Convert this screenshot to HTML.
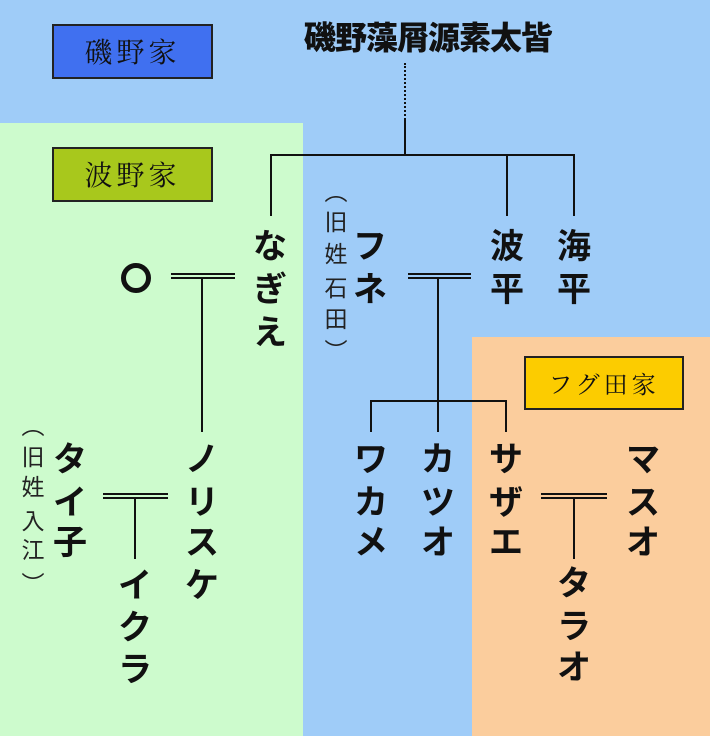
<!DOCTYPE html>
<html><head><meta charset="utf-8"><style>
body{margin:0;width:710px;height:736px;overflow:hidden;position:relative;background:#9fccf8;font-family:"Liberation Sans","Noto Sans CJK JP",sans-serif}
div{position:absolute}
.c{width:44px;text-align:center;font-size:34px;font-weight:bold;line-height:36px;color:#111}
.s{width:30px;text-align:center;font-size:23px;line-height:26px;color:#222}
.l{background:#111}
.box{border:2px solid #222;box-sizing:border-box;font-family:"Noto Serif CJK SC","Liberation Serif",serif;font-size:28px;text-align:center;color:#111;letter-spacing:4px}
</style></head><body>
<div style="left:0;top:123px;width:303px;height:613px;background:#cdfbcd"></div>
<div style="left:472px;top:337px;width:238px;height:399px;background:#fbcd9d"></div>

<div class="box" style="left:52px;top:24px;width:161px;height:55px;background:#4070f0;line-height:51px">磯野家</div>
<div class="box" style="left:52px;top:147px;width:161px;height:55px;background:#a8c81c;line-height:51px">波野家</div>
<div class="box" style="left:524px;top:356px;width:160px;height:54px;background:#fccc00;line-height:50px;font-size:24px">フグ田家</div>

<div style="left:281px;top:20px;width:294px;text-align:center;font-size:32px;font-weight:900;line-height:36px;color:#111;letter-spacing:-1px">磯野藻屑源素太皆</div>

<div style="left:404px;top:63px;width:0;height:57px;border-left:2px dotted #111"></div>
<div class="l" style="left:404px;top:120px;width:2px;height:36px"></div>
<div class="l" style="left:270px;top:154px;width:305px;height:2px"></div>
<div class="l" style="left:270px;top:154px;width:2px;height:62px"></div>
<div class="l" style="left:506px;top:154px;width:2px;height:62px"></div>
<div class="l" style="left:573px;top:154px;width:2px;height:62px"></div>

<div class="l" style="left:171px;top:273px;width:64px;height:2px"></div>
<div class="l" style="left:171px;top:277px;width:64px;height:2px"></div>
<div class="l" style="left:201px;top:277px;width:2px;height:155px"></div>

<div class="l" style="left:408px;top:273px;width:63px;height:2px"></div>
<div class="l" style="left:408px;top:277px;width:63px;height:2px"></div>
<div class="l" style="left:437px;top:277px;width:2px;height:155px"></div>
<div class="l" style="left:370px;top:400px;width:137px;height:2px"></div>
<div class="l" style="left:370px;top:400px;width:2px;height:32px"></div>
<div class="l" style="left:505px;top:400px;width:2px;height:32px"></div>

<div class="l" style="left:103px;top:493px;width:65px;height:2px"></div>
<div class="l" style="left:103px;top:497px;width:65px;height:2px"></div>
<div class="l" style="left:134px;top:497px;width:2px;height:62px"></div>

<div class="l" style="left:541px;top:493px;width:66px;height:2px"></div>
<div class="l" style="left:541px;top:497px;width:66px;height:2px"></div>
<div class="l" style="left:573px;top:497px;width:2px;height:62px"></div>

<div style="left:121px;top:263px;width:30px;height:30px;border:5px solid #111;border-radius:50%;box-sizing:border-box"></div>

<div class="c" style="left:248px;top:229px">な</div>
<div class="c" style="left:248px;top:272px">ぎ</div>
<div class="c" style="left:248px;top:315px">え</div>

<div class="s" style="left:321px;top:179px">︵</div>
<div class="s" style="left:321px;top:209px">旧</div>
<div class="s" style="left:321px;top:241px">姓</div>
<div class="s" style="left:321px;top:275px">石</div>
<div class="s" style="left:321px;top:306px">田</div>
<div class="s" style="left:321px;top:338px">︶</div>

<div class="c" style="left:348px;top:229px">フ</div>
<div class="c" style="left:348px;top:272px">ネ</div>
<div class="c" style="left:485px;top:229px">波</div>
<div class="c" style="left:485px;top:272px">平</div>
<div class="c" style="left:552px;top:229px">海</div>
<div class="c" style="left:552px;top:272px">平</div>

<div class="s" style="left:18px;top:413px">︵</div>
<div class="s" style="left:18px;top:444px">旧</div>
<div class="s" style="left:18px;top:474px">姓</div>
<div class="s" style="left:18px;top:508px">入</div>
<div class="s" style="left:18px;top:537px">江</div>
<div class="s" style="left:18px;top:571px">︶</div>

<div class="c" style="left:48px;top:442px">タ</div>
<div class="c" style="left:48px;top:485px">イ</div>
<div class="c" style="left:48px;top:525px">子</div>

<div class="c" style="left:180px;top:442px">ノ</div>
<div class="c" style="left:180px;top:485px">リ</div>
<div class="c" style="left:180px;top:525px">ス</div>
<div class="c" style="left:180px;top:568px">ケ</div>

<div class="c" style="left:113px;top:568px">イ</div>
<div class="c" style="left:113px;top:610px">ク</div>
<div class="c" style="left:113px;top:652px">ラ</div>

<div class="c" style="left:349px;top:442px">ワ</div>
<div class="c" style="left:349px;top:485px">カ</div>
<div class="c" style="left:349px;top:525px">メ</div>
<div class="c" style="left:416px;top:442px">カ</div>
<div class="c" style="left:416px;top:485px">ツ</div>
<div class="c" style="left:416px;top:525px">オ</div>
<div class="c" style="left:484px;top:442px">サ</div>
<div class="c" style="left:484px;top:485px">ザ</div>
<div class="c" style="left:484px;top:525px">エ</div>
<div class="c" style="left:621px;top:442px">マ</div>
<div class="c" style="left:621px;top:485px">ス</div>
<div class="c" style="left:621px;top:525px">オ</div>

<div class="c" style="left:552px;top:566px">タ</div>
<div class="c" style="left:552px;top:609px">ラ</div>
<div class="c" style="left:552px;top:650px">オ</div>
</body></html>
